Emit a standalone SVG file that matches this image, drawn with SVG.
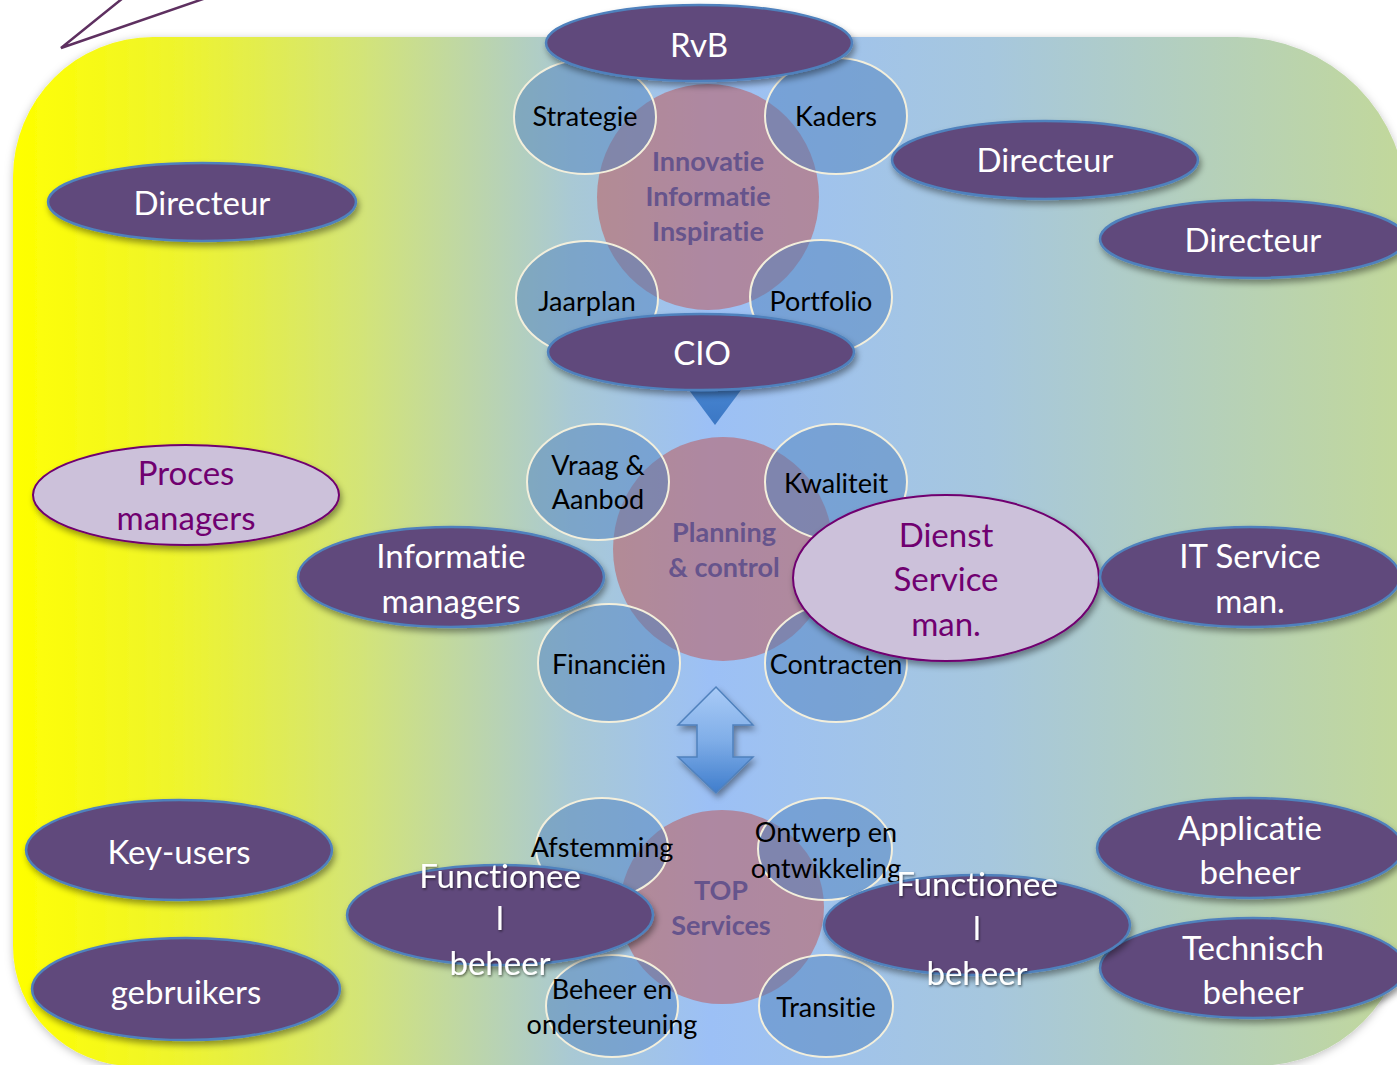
<svg xmlns="http://www.w3.org/2000/svg" width="1397" height="1065" viewBox="0 0 1397 1065">
<defs>
<linearGradient id="bg" x1="13" y1="0" x2="1407" y2="0" gradientUnits="userSpaceOnUse">
<stop offset="0" stop-color="#ffff00"/>
<stop offset="0.12" stop-color="#eef42e"/>
<stop offset="0.25" stop-color="#d3e478"/>
<stop offset="0.4" stop-color="#a9c9d4"/>
<stop offset="0.5" stop-color="#9cc0f6"/>
<stop offset="0.7" stop-color="#a6c7de"/>
<stop offset="1" stop-color="#c2d89a"/>
</linearGradient>
<linearGradient id="dbl" x1="0" y1="0" x2="0" y2="1">
<stop offset="0" stop-color="#a9cbf7"/>
<stop offset="0.5" stop-color="#80aee8"/>
<stop offset="1" stop-color="#3f7dcc"/>
</linearGradient>
<linearGradient id="tri" x1="0" y1="0" x2="0" y2="1">
<stop offset="0" stop-color="#4a88d4"/>
<stop offset="1" stop-color="#3b77c4"/>
</linearGradient>
<filter id="bgsh" x="-5%" y="-5%" width="110%" height="110%">
<feDropShadow dx="0" dy="2" stdDeviation="4" flood-color="#000" flood-opacity="0.25"/>
</filter>
<filter id="sh" x="-10%" y="-20%" width="125%" height="150%">
<feDropShadow dx="2" dy="4" stdDeviation="3" flood-color="#000" flood-opacity="0.4"/>
</filter>
<filter id="tsh" x="-10%" y="-20%" width="120%" height="150%">
<feDropShadow dx="1" dy="1.5" stdDeviation="1" flood-color="#000" flood-opacity="0.5"/>
</filter>
</defs>
<style>
.dark{fill:#604a7b;stroke:#4f81bd;stroke-width:2.5}
.light{fill:#ccc1da;stroke:#700070;stroke-width:2}
.blue{fill:#4f81bd;fill-opacity:0.5;stroke:#f3efdc;stroke-width:2}
.pink{fill:#c0504d;fill-opacity:0.5}
text{font-family:Lato,"Open Sans","Liberation Sans",sans-serif;text-anchor:middle;font-variant-ligatures:none;font-feature-settings:"liga" 0,"dlig" 0}
.wt{fill:#ffffff;font-size:33px}
.pt{fill:#700070;font-size:33px}
.bt{fill:#000000;font-size:27px}
.ct{fill:#66548c;font-size:27px;font-weight:bold}
</style>

<path d="M 153,37 H 1237 A 170,170 0 0 1 1407,207 V 916 A 150,150 0 0 1 1257,1066 H 133 A 120,120 0 0 1 13,946 V 177 A 140,140 0 0 1 153,37 Z" fill="url(#bg)" filter="url(#bgsh)"/>
<polyline points="123,-2 61,48 206,-2" fill="none" stroke="#5e3060" stroke-width="2.5"/>

<g id="connectors">
<polygon points="680,378 750,378 715,425" fill="url(#tri)"/>
<polygon points="716,687 753,725 733,725 733,757 753,757 716,793 678,757 697,757 697,725 678,725" fill="url(#dbl)" stroke="#4f81bd" stroke-width="1.5" filter="url(#sh)"/>
</g>

<g id="innovatie"><ellipse class="pink" cx="708" cy="197" rx="111" ry="113"/></g>
<g id="planning"><ellipse class="pink" cx="723" cy="549" rx="110" ry="112"/></g>
<g id="topservices"><ellipse class="pink" cx="722" cy="907" rx="102" ry="97"/></g>

<g id="strategie"><ellipse class="blue" cx="585" cy="117" rx="71" ry="57"/><text class="bt" x="585" y="126">Strategie</text></g>
<g id="kaders"><ellipse class="blue" cx="836" cy="116" rx="71" ry="58"/><text class="bt" x="836" y="126">Kaders</text></g>
<g id="jaarplan"><ellipse class="blue" cx="587" cy="298" rx="71" ry="57"/><text class="bt" x="587" y="311">Jaarplan</text></g>
<g id="portfolio"><ellipse class="blue" cx="821" cy="297" rx="71" ry="57"/><text class="bt" x="821" y="311">Portfolio</text></g>

<g id="vraag"><ellipse class="blue" cx="598" cy="482" rx="71" ry="58"/><text class="bt" x="598" y="475">Vraag &amp;</text><text class="bt" x="598" y="509">Aanbod</text></g>
<g id="kwaliteit"><ellipse class="blue" cx="836" cy="482" rx="71" ry="58"/><text class="bt" x="836" y="493">Kwaliteit</text></g>
<g id="financien"><ellipse class="blue" cx="609" cy="663" rx="71" ry="59"/><text class="bt" x="609" y="674">Financiën</text></g>
<g id="contracten"><ellipse class="blue" cx="836" cy="663" rx="71" ry="59"/><text class="bt" x="836" y="674">Contracten</text></g>

<g id="afstemming"><ellipse class="blue" cx="602" cy="848" rx="66" ry="50"/><text class="bt" x="602" y="857">Afstemming</text></g>
<g id="ontwerp"><ellipse class="blue" cx="825" cy="849" rx="67" ry="51"/><text class="bt" x="826" y="842">Ontwerp en</text><text class="bt" x="826" y="878">ontwikkeling</text></g>
<g id="beheeren"><ellipse class="blue" cx="612" cy="1006" rx="66" ry="51"/><text class="bt" x="612" y="999">Beheer en</text><text class="bt" x="612" y="1034">ondersteuning</text></g>
<g id="transitie"><ellipse class="blue" cx="826" cy="1006" rx="67" ry="51"/><text class="bt" x="826" y="1017">Transitie</text></g>

<g id="innovatie-text"><text class="ct" x="708" y="171">Innovatie</text><text class="ct" x="708" y="206">Informatie</text><text class="ct" x="708" y="241">Inspiratie</text></g>
<g id="planning-text"><text class="ct" x="724" y="542">Planning</text><text class="ct" x="724" y="577">&amp; control</text></g>
<g id="top-text"><text class="ct" x="721" y="900">TOP</text><text class="ct" x="721" y="935">Services</text></g>

<g id="rvb"><ellipse class="dark" cx="699" cy="43" rx="153" ry="38" filter="url(#sh)"/><text class="wt" x="699" y="57">RvB</text></g>
<g id="cio"><ellipse class="dark" cx="701" cy="352" rx="153" ry="38" filter="url(#sh)"/><text class="wt" x="702" y="365">CIO</text></g>
<g id="directeur1"><ellipse class="dark" cx="202" cy="202" rx="154" ry="39" filter="url(#sh)"/><text class="wt" x="202" y="215">Directeur</text></g>
<g id="directeur2"><ellipse class="dark" cx="1045" cy="160" rx="153" ry="39" filter="url(#sh)"/><text class="wt" x="1045" y="172">Directeur</text></g>
<g id="directeur3"><ellipse class="dark" cx="1253" cy="239" rx="153" ry="39" filter="url(#sh)"/><text class="wt" x="1253" y="252">Directeur</text></g>

<g id="proces"><ellipse class="light" cx="186" cy="495" rx="153" ry="50" filter="url(#sh)"/><text class="pt" x="186" y="485">Proces</text><text class="pt" x="186" y="530">managers</text></g>
<g id="informatie"><ellipse class="dark" cx="451" cy="577" rx="153" ry="50" filter="url(#sh)"/><text class="wt" x="451" y="568">Informatie</text><text class="wt" x="451" y="613">managers</text></g>
<g id="dienst"><ellipse class="light" cx="946" cy="578" rx="153" ry="83" filter="url(#sh)"/><text class="pt" x="946" y="547">Dienst</text><text class="pt" x="946" y="591">Service</text><text class="pt" x="946" y="636">man.</text></g>
<g id="itservice"><ellipse class="dark" cx="1250" cy="577" rx="150" ry="50" filter="url(#sh)"/><text class="wt" x="1250" y="568">IT Service</text><text class="wt" x="1250" y="613">man.</text></g>

<g id="keyusers"><ellipse class="dark" cx="179" cy="850" rx="153" ry="50" filter="url(#sh)"/><text class="wt" x="179" y="864">Key-users</text></g>
<g id="gebruikers"><ellipse class="dark" cx="186" cy="989" rx="154" ry="51" filter="url(#sh)"/><text class="wt" x="186" y="1004">gebruikers</text></g>
<g id="applicatie"><ellipse class="dark" cx="1250" cy="848" rx="153" ry="50" filter="url(#sh)"/><text class="wt" x="1250" y="840">Applicatie</text><text class="wt" x="1250" y="884">beheer</text></g>
<g id="technisch"><ellipse class="dark" cx="1253" cy="968" rx="153" ry="50" filter="url(#sh)"/><text class="wt" x="1253" y="960">Technisch</text><text class="wt" x="1253" y="1004">beheer</text></g>
<g id="functioneel1"><ellipse class="dark" cx="500" cy="915" rx="153" ry="50" filter="url(#sh)"/><g filter="url(#tsh)"><text class="wt" x="500" y="888">Functionee</text><text class="wt" x="500" y="930">l</text><text class="wt" x="500" y="975">beheer</text></g></g>
<g id="functioneel2"><ellipse class="dark" cx="977" cy="925" rx="153" ry="50" filter="url(#sh)"/><g filter="url(#tsh)"><text class="wt" x="977" y="896">Functionee</text><text class="wt" x="977" y="940">l</text><text class="wt" x="977" y="985">beheer</text></g></g>
</svg>
